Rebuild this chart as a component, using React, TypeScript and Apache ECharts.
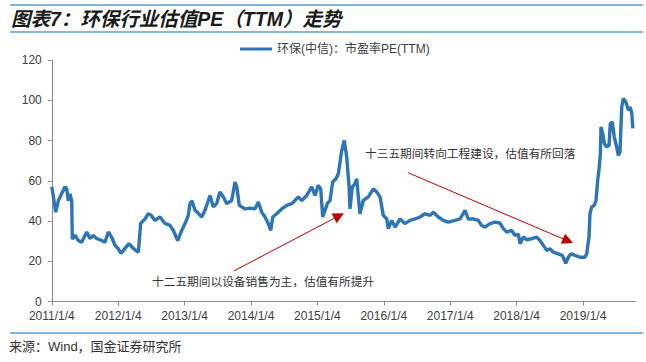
import React, { useEffect, useRef } from "react";
import * as echarts from "echarts";

// x positions in years (2011.0 = 2011/1/4), values = PE(TTM)
const timeYears = [
  2011.0, 2011.015, 2011.059, 2011.098, 2011.149, 2011.199, 2011.224, 2011.248, 2011.274, 2011.3,
  2011.309, 2011.349, 2011.399, 2011.45, 2011.526, 2011.575, 2011.625, 2011.676, 2011.752, 2011.801,
  2011.851, 2011.902, 2011.952, 2012.001, 2012.042, 2012.102, 2012.163, 2012.212, 2012.279, 2012.303,
  2012.339, 2012.404, 2012.453, 2012.494, 2012.554, 2012.63, 2012.705, 2012.78, 2012.83, 2012.896,
  2012.956, 2013.006, 2013.056, 2013.081, 2013.111, 2013.157, 2013.206, 2013.258, 2013.307, 2013.357,
  2013.383, 2013.432, 2013.483, 2013.533, 2013.583, 2013.634, 2013.709, 2013.759, 2013.785, 2013.824,
  2013.86, 2013.91, 2013.985, 2014.06, 2014.11, 2014.161, 2014.211, 2014.261, 2014.297, 2014.327,
  2014.387, 2014.462, 2014.538, 2014.613, 2014.663, 2014.712, 2014.764, 2014.839, 2014.914, 2014.964,
  2015.014, 2015.05, 2015.08, 2015.114, 2015.149, 2015.19, 2015.23, 2015.28, 2015.315, 2015.366,
  2015.405, 2015.441, 2015.476, 2015.491, 2015.526, 2015.566, 2015.592, 2015.616, 2015.642, 2015.691,
  2015.767, 2015.842, 2015.893, 2015.943, 2015.992, 2016.044, 2016.068, 2016.119, 2016.169, 2016.244,
  2016.319, 2016.395, 2016.47, 2016.545, 2016.62, 2016.696, 2016.745, 2016.821, 2016.896, 2016.971,
  2017.072, 2017.148, 2017.223, 2017.273, 2017.348, 2017.423, 2017.474, 2017.524, 2017.599, 2017.675,
  2017.75, 2017.8, 2017.851, 2017.926, 2017.976, 2018.026, 2018.051, 2018.101, 2018.152, 2018.227,
  2018.302, 2018.352, 2018.402, 2018.453, 2018.503, 2018.553, 2018.628, 2018.688, 2018.739, 2018.779,
  2018.819, 2018.88, 2018.955, 2019.03, 2019.056, 2019.09, 2019.105, 2019.131, 2019.17, 2019.196,
  2019.221, 2019.245, 2019.261, 2019.271, 2019.297, 2019.321, 2019.357, 2019.392, 2019.411, 2019.441,
  2019.471, 2019.507, 2019.532, 2019.557, 2019.583, 2019.608, 2019.644, 2019.684, 2019.709, 2019.735,
  2019.75,
];

const peValues = [
  57, 54, 44.4, 50, 53.7, 57, 56, 50, 53.5, 50,
  31, 33, 30.3, 29.5, 34.5, 31.3, 32.8, 31.3, 30.3, 29.5,
  34.5, 32, 27.9, 26.2, 23.9, 26.4, 28.8, 26.9, 25, 24.5,
  38.8, 41, 43.6, 43, 40.3, 42, 38.8, 37.8, 35.3, 30.3,
  35.3, 38.7, 42.8, 48.7, 50, 45.3, 43.8, 42, 45.3, 50.2,
  52.7, 47, 48.7, 54.4, 52, 48.6, 50.2, 59.4, 57, 47.8,
  47, 46, 46.4, 46, 49.4, 44.4, 42, 38.7, 35.3, 42,
  43.6, 46, 47.8, 48.6, 50.2, 52, 50.2, 52.7, 57, 52.7,
  57.7, 56, 42, 45.3, 48.6, 50.2, 59.4, 61, 63.5, 75,
  80, 71.8, 57.7, 46, 57, 58.5, 61, 52, 43.6, 50.2,
  52, 56, 54.4, 52, 42.8, 41, 36.2, 40.3, 37, 41,
  38.7, 40.3, 41, 42, 43.6, 42.8, 44.4, 42, 40.3, 39.4,
  40.3, 41, 45.3, 41, 41, 40.3, 37.8, 37, 38.7, 39.4,
  39, 36.2, 34.5, 35.3, 32.8, 33.5, 28.7, 32, 30.7, 31.2,
  32, 30.3, 27.9, 25.4, 26.2, 24.5, 23.7, 22.9, 19, 22,
  23.7, 22.9, 22, 22, 23.7, 32, 43.6, 47, 47.8, 50.2,
  60.2, 66.8, 73.5, 86.7, 83.4, 78.5, 76.8, 77.6, 88.4, 89.2,
  81.7, 76.8, 72.6, 74.3, 96.7, 100.9, 99.2, 95, 96.7, 93.4,
  86,
];

const tickYears = [2011, 2012, 2013, 2014, 2015, 2016, 2017, 2018, 2019];
const tickLabels = ["2011/1/4", "2012/1/4", "2013/1/4", "2014/1/4", "2015/1/4", "2016/1/4", "2017/1/4", "2018/1/4", "2019/1/4"];
const xAxisEnd = 2019.792;

const seriesName = "环保(中信)：市盈率PE(TTM)";
const titleText = "图表7：环保行业估值PE（TTM）走势";
const sourceText = "来源：Wind，国金证券研究所";
const note1 = "十二五期间以设备销售为主，估值有所提升";
const note2 = "十三五期间转向工程建设，估值有所回落";
// arrow annotations in data coordinates [year, PE]
const arrow1 = [[2013.744, 15.2], [2015.325, 42.6]];
const arrow2 = [[2016.364, 64], [2018.774, 30.1]];

const FONT = "'Liberation Sans', 'Noto Sans CJK SC', sans-serif";
const CJK = "'Noto Sans CJK SC', sans-serif";

export default function App() {
  const ref = useRef<HTMLDivElement>(null);
  useEffect(() => {
    if (!ref.current) return;
    const chart = echarts.init(ref.current, undefined, { renderer: "svg" });
    const data = timeYears.map((t, i) => [t, peValues[i]]);
    const ruleColor = "#5a9fd4";
    const arrowColor = "#c00000";
    chart.setOption({
      animation: false,
      backgroundColor: "#ffffff",
      title: {
        text: titleText,
        left: 11,
        top: 9,
        padding: 0,
        textStyle: { fontSize: 19.5, fontWeight: "bold", fontStyle: "italic", color: "#1a1a1a", fontFamily: FONT },
      },
      legend: {
        left: 240,
        top: 43,
        padding: 0,
        icon: "rect",
        itemWidth: 32,
        itemHeight: 3,
        itemGap: 5,
        textStyle: { fontSize: 12, color: "#404040", fontFamily: FONT },
        data: [seriesName],
      },
      grid: { left: 51.8, right: 10.4, top: 60, bottom: 60.5, containLabel: false },
      xAxis: {
        type: "value",
        min: tickYears[0],
        max: xAxisEnd,
        interval: 1,
        splitLine: { show: false },
        axisLine: { lineStyle: { color: "#898989", width: 1 } },
        axisTick: { show: true, length: 4, lineStyle: { color: "#898989" }, customValues: tickYears },
        axisLabel: {
          customValues: tickYears,
          formatter: (v: number) => {
            const i = tickYears.indexOf(Math.round(v));
            return i >= 0 ? tickLabels[i] : "";
          },
          fontSize: 12,
          color: "#404040",
          fontFamily: FONT,
          margin: 8,
        },
      },
      yAxis: {
        type: "value",
        min: 0,
        max: 120,
        interval: 20,
        splitLine: { show: false },
        axisLine: { show: true, lineStyle: { color: "#898989", width: 1 } },
        axisTick: { show: true, length: 4, lineStyle: { color: "#898989" } },
        axisLabel: { fontSize: 12, color: "#404040", fontFamily: FONT, margin: 10 },
      },
      series: [
        {
          name: seriesName,
          type: "line",
          data,
          showSymbol: false,
          symbol: "none",
          lineStyle: { color: "#2e75b6", width: 3.4 },
          itemStyle: { color: "#2e75b6" },
          markLine: {
            silent: true,
            symbol: ["none", "triangle"],
            symbolSize: [11, 11],
            label: { show: false },
            lineStyle: { color: arrowColor, width: 1, type: "solid" },
            itemStyle: { color: arrowColor },
            data: [
              [{ coord: arrow1[0] }, { coord: arrow1[1] }],
              [{ coord: arrow2[0] }, { coord: arrow2[1] }],
            ],
          },
        },
      ],
      graphic: [
        { type: "line", shape: { x1: 10, y1: 5, x2: 643, y2: 5 }, style: { stroke: ruleColor, lineWidth: 1.5 } },
        { type: "line", shape: { x1: 10, y1: 32, x2: 643, y2: 32 }, style: { stroke: ruleColor, lineWidth: 1.5 } },
        { type: "line", shape: { x1: 10, y1: 333, x2: 643, y2: 333 }, style: { stroke: ruleColor, lineWidth: 1.5 } },
        {
          type: "text",
          left: 9,
          top: 340,
          style: { text: sourceText, fontSize: 13, fill: "#333333", fontFamily: FONT },
        },
        {
          type: "text",
          left: 152,
          top: 275,
          style: { text: note1, fontSize: 11.7, fill: "#333333", fontFamily: CJK },
        },
        {
          type: "text",
          left: 365,
          top: 147,
          style: { text: note2, fontSize: 11.7, fill: "#333333", fontFamily: CJK },
        },
      ],
    });
    return () => chart.dispose();
  }, []);
  return <div ref={ref} style={{ position: "absolute", left: 0, top: 0, width: 646, height: 362 }} />;
}
